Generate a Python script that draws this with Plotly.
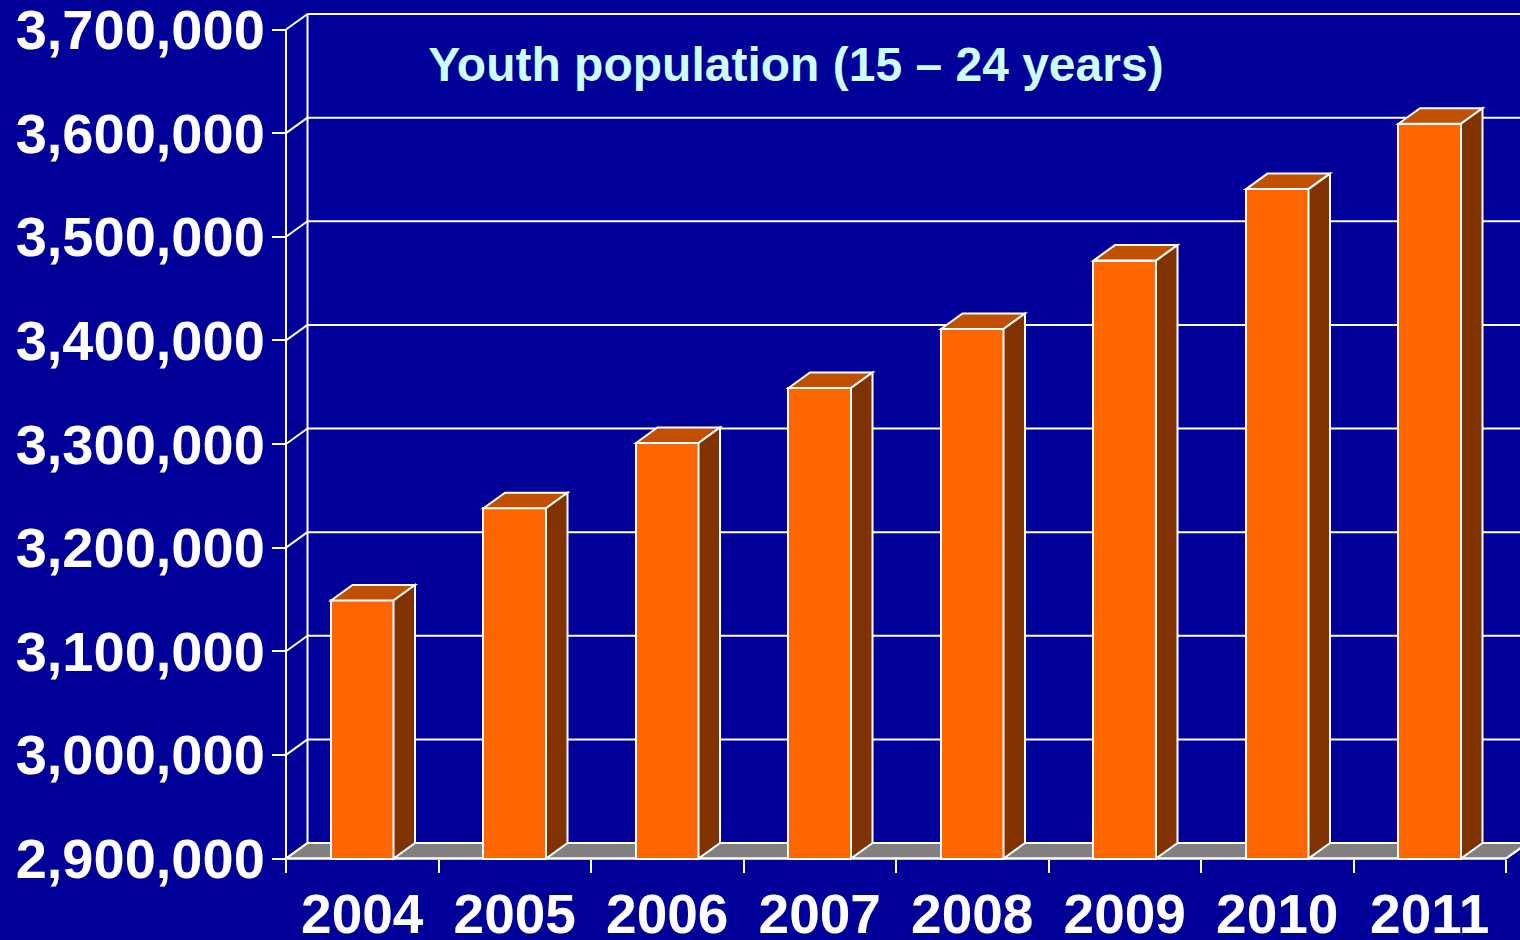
import plotly.graph_objects as go

# ---------------- data ----------------
years = ["2004", "2005", "2006", "2007", "2008", "2009", "2010", "2011"]
population = [3149000, 3238000, 3301000, 3354000, 3411000, 3477000, 3546000, 3609000]
y_ticks = [2900000, 3000000, 3100000, 3200000, 3300000, 3400000, 3500000, 3600000, 3700000]
title_text = "Youth population (15 – 24 years)"

# ---------------- style / geometry constants ----------------
W, H = 1520, 940
BG = "#000099"
FRONT = "#FF6600"
TOP = "#C05000"
SIDE = "#803300"
FLOOR = "#808080"
WHITE = "#FFFFFF"
FONT = "Liberation Sans, Arial, sans-serif"

Y_MIN, Y_MAX = y_ticks[0], y_ticks[-1]
UNIT_PER_PX = 800000 / 829.0      # value units per pixel (front plane)
CAT_PX = 152.5                    # pixels per category
AXIS_X_PX, AXIS_Y_PX = 286, 858.5  # front axes corner in pixels
ML, MT, MB = 280, 13, 76
BAR_W = 0.41
DX = 21.5 / CAT_PX                # depth offset in category units
DY = 15.5 * UNIT_PER_PX           # depth offset in value units

x_lo = -0.5 - (AXIS_X_PX - ML) / CAT_PX
x_hi = -0.5 + (W - AXIS_X_PX) / CAT_PX
y_lo = Y_MIN - ((H - MB) - AXIS_Y_PX) * UNIT_PER_PX
y_hi = Y_MIN + (AXIS_Y_PX - MT) * UNIT_PER_PX
n = len(years)
xs = list(range(n))

fig = go.Figure()
fig.add_trace(go.Bar(
    x=xs, y=[v - Y_MIN for v in population], base=Y_MIN, width=BAR_W,
    marker=dict(color=FRONT, line=dict(color=WHITE, width=2)),
    hoverinfo="skip", showlegend=False,
))

shapes = []
line = dict(color=WHITE, width=2)
# floor
shapes.append(dict(type="path", xref="x", yref="y", layer="below",
                   path=f"M {-0.5},{Y_MIN} L {n-0.5},{Y_MIN} L {n-0.5+DX},{Y_MIN+DY} L {x_hi+1},{Y_MIN+DY} "
                        f"L {x_hi+1},{Y_MIN+DY} L {-0.5+DX},{Y_MIN+DY} Z",
                   fillcolor=FLOOR, line=line))
# back wall + left wall grid
for v in y_ticks:
    shapes.append(dict(type="line", xref="x", yref="y", layer="below",
                       x0=-0.5 + DX, x1=x_hi + 1, y0=v + DY, y1=v + DY, line=line))
    shapes.append(dict(type="line", xref="x", yref="y", layer="below",
                       x0=-0.5, x1=-0.5 + DX, y0=v, y1=v + DY, line=line))
shapes.append(dict(type="line", xref="x", yref="y", layer="below",
                   x0=-0.5 + DX, x1=-0.5 + DX, y0=Y_MIN + DY, y1=Y_MAX + DY, line=line))
# front axes lines
shapes.append(dict(type="line", xref="x", yref="y", layer="above",
                   x0=-0.5, x1=-0.5, y0=Y_MIN, y1=Y_MAX, line=line))
shapes.append(dict(type="line", xref="x", yref="y", layer="below",
                   x0=-0.5, x1=n - 0.5, y0=Y_MIN, y1=Y_MIN, line=line))
shapes.append(dict(type="line", xref="x", yref="y", layer="below",
                   x0=n - 0.5, x1=n - 0.5 + DX, y0=Y_MIN, y1=Y_MIN + DY, line=line))
# 3D faces of bars
for i, v in enumerate(population):
    l, r = i - BAR_W / 2, i + BAR_W / 2
    shapes.append(dict(type="path", xref="x", yref="y", layer="above",
                       path=f"M {l},{v} L {l+DX},{v+DY} L {r+DX},{v+DY} L {r},{v} Z",
                       fillcolor=TOP, line=line))
    shapes.append(dict(type="path", xref="x", yref="y", layer="above",
                       path=f"M {r},{Y_MIN} L {r},{v} L {r+DX},{v+DY} L {r+DX},{Y_MIN+DY} Z",
                       fillcolor=SIDE, line=line))

fig.update_layout(
    width=W, height=H,
    margin=dict(l=ML, r=0, t=MT, b=MB, pad=0, autoexpand=False),
    paper_bgcolor=BG, plot_bgcolor=BG,
    shapes=shapes,
    showlegend=False,
    title=dict(text=title_text, x=796 / W, xanchor="center", xref="container",
               y=1 - 64 / H, yanchor="middle", yref="container",
               font=dict(family=FONT, size=48, color="#CCFFFF", weight="bold")),
    xaxis=dict(range=[x_lo, x_hi], tickmode="array", tickvals=xs, ticktext=years,
               showgrid=False, zeroline=False, showline=False, ticks="",
               automargin=False, ticklabeloverflow="allow",
               anchor="free", position=((H - MB) - AXIS_Y_PX) / (H - MT - MB),
               tickfont=dict(family=FONT, size=55, color=WHITE, weight="bold"),
               ticklabelstandoff=18,
               minor=dict(tickmode="array", tickvals=[i - 0.5 for i in range(n + 1)],
                          ticks="outside", ticklen=13, tickwidth=2, tickcolor=WHITE, showgrid=False)),
    yaxis=dict(range=[y_lo, y_hi], tickmode="array", tickvals=y_ticks,
               tickformat=",d", showgrid=False, zeroline=False, showline=False,
               ticks="outside", ticklen=14, tickwidth=2, tickcolor=WHITE,
               automargin=False, ticklabeloverflow="allow",
               anchor="free", position=(AXIS_X_PX - ML) / (W - ML),
               tickfont=dict(family=FONT, size=56, color=WHITE, weight="bold"),
               ticklabelstandoff=-4),
    bargap=0,
)

fig.write_html("out.html")
